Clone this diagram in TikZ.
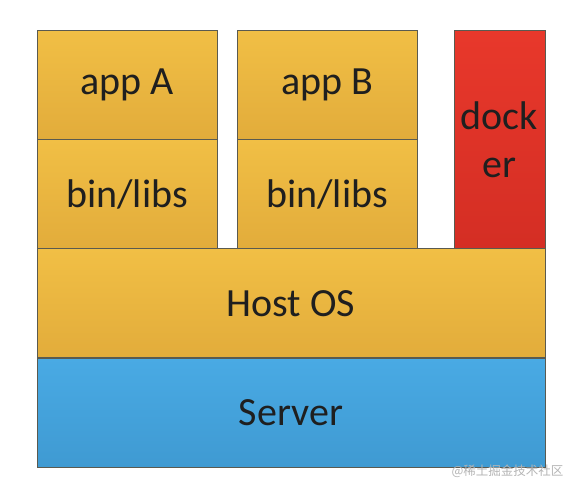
\documentclass[tikz,border=0pt]{standalone}
\usepackage{fontspec}
\setmainfont{Carlito}
\newfontfamily\cjkfont{Noto Sans CJK SC}

\definecolor{hostTop}{HTML}{F1BF45}
\definecolor{hostBottom}{HTML}{E2AC3B}
\definecolor{dockerTop}{HTML}{E8382B}
\definecolor{dockerBottom}{HTML}{D42E24}
\definecolor{serverTop}{HTML}{49AAE4}
\definecolor{serverBottom}{HTML}{3F9AD2}
\definecolor{layerEdge}{HTML}{5A5A50}
\definecolor{markGray}{HTML}{B4B4B4}

\begin{document}
\begin{tikzpicture}[x=1pt, y=-1pt,
    layer/.style={draw=layerEdge, line width=1pt, inner sep=0pt,
        text=black!88, font=\fontsize{40}{48}\selectfont},
    yellowbox/.style={layer, top color=hostTop, bottom color=hostBottom},
    redbox/.style={layer, top color=dockerTop, bottom color=dockerBottom},
    bluebox/.style={layer, top color=serverTop, bottom color=serverBottom}]
% Constants
\def\stackWidth{180pt} % Width of an app column
\def\cellHeight{109pt} % Height of one cell
\def\fullWidth{508pt} % Width of host and server

\useasboundingbox (0,0) rectangle (574,492);

% App columns with their libraries
\foreach \name/\label/\x in {A/app A/127, B/app B/327} {
    \node[yellowbox, minimum width=\stackWidth, minimum height=\cellHeight] (app-\name) at (\x, 85) {\label};
    \node[yellowbox, minimum width=\stackWidth, minimum height=\cellHeight] (libs-\name) at (\x, 194) {bin/libs};
}

% Docker engine
\node[redbox, minimum width=91pt, minimum height=218pt, align=center] (docker) at (499.5, 139.5) {dock\\er};

% Host and server layers
\node[yellowbox, minimum width=\fullWidth, minimum height=\cellHeight] (host) at (291, 303.5) {Host OS};
\node[bluebox, minimum width=\fullWidth, minimum height=\cellHeight] (server) at (291, 413) {Server};

% Watermark
\node[text=markGray, font=\cjkfont\fontsize{12.5}{14}\selectfont, anchor=east] (mark) at (567, 471) {@稀土掘金技术社区};
\end{tikzpicture}
\end{document}
